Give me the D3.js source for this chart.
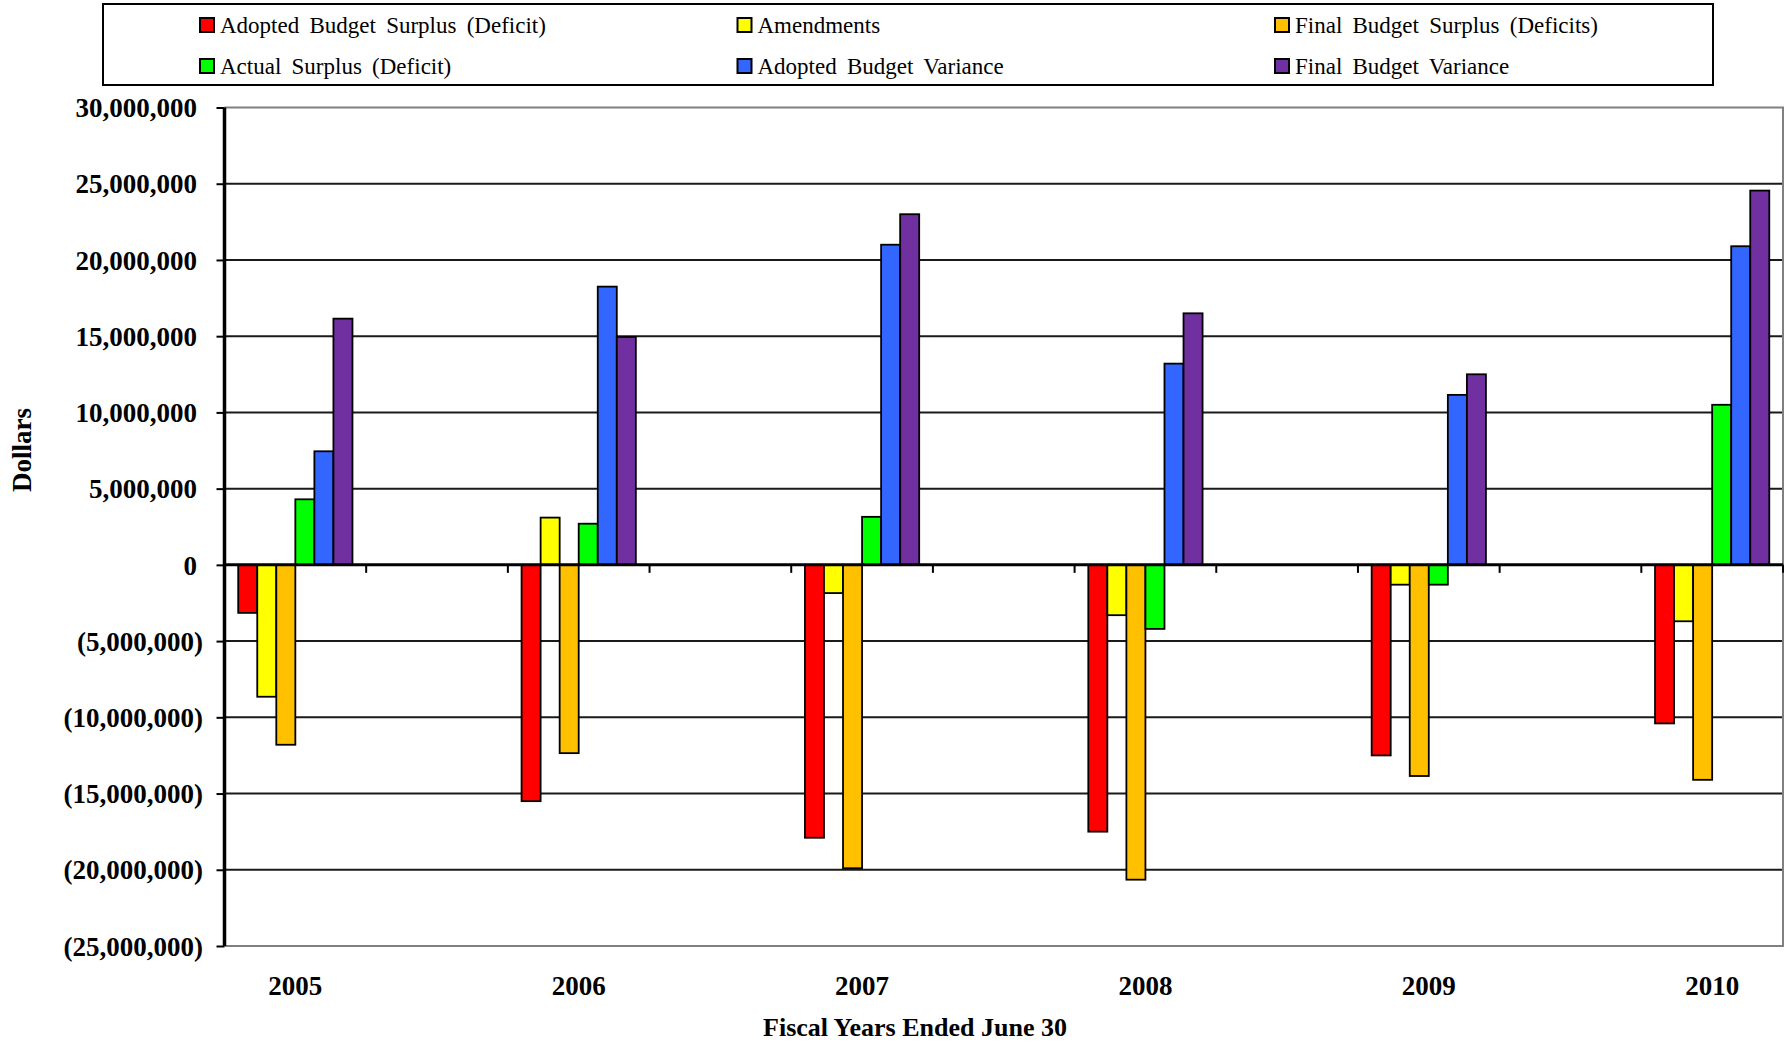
<!DOCTYPE html>
<html>
<head>
<meta charset="utf-8">
<script src="https://cdn.jsdelivr.net/npm/d3@7"></script>
<style>
  html, body { margin: 0; padding: 0; background: #fff; }
  svg { display: block; }
  text { font-family: "Liberation Serif", "Times New Roman", serif; }
</style>
</head>
<body>
<svg id="chart" width="1790" height="1045"></svg>
<script>
// Fiscal years shown on the category axis
const years = ["2005", "2006", "2007", "2008", "2009", "2010"];

// Series names (legend order) and their fill colours
const seriesNames = [
  "Adopted Budget Surplus (Deficit)",
  "Amendments",
  "Final Budget Surplus (Deficits)",
  "Actual Surplus (Deficit)",
  "Adopted Budget Variance",
  "Final Budget Variance"
];
const seriesColors = ["#FF0000", "#FFFF00", "#FFC000", "#00FF00", "#3366FF", "#7030A0"];

// Dollar values per series, one per fiscal year
const adoptedSurplus  = [-3150000, -15500000, -17900000, -17500000, -12500000, -10400000];
const amendments      = [-8650000,   3100000,  -1850000,  -3300000,  -1300000,  -3700000];
const finalSurplus    = [-11800000, -12350000, -19900000, -20650000, -13850000, -14100000];
const actualSurplus   = [ 4300000,   2700000,   3150000,  -4200000,  -1300000,  10500000];
const adoptedVariance = [ 7450000,  18250000,  21000000,  13200000,  11150000,  20900000];
const finalVariance   = [16150000,  14950000,  23000000,  16500000,  12500000,  24550000];

// Value axis ticks
const yTicks = [30000000, 25000000, 20000000, 15000000, 10000000, 5000000, 0,
                -5000000, -10000000, -15000000, -20000000, -25000000];

const seriesValues = [adoptedSurplus, amendments, finalSurplus, actualSurplus, adoptedVariance, finalVariance];

const svg = d3.select("#chart");

// Plot area
const plot = { left: 224.5, right: 1783, top: 107.5, bottom: 946 };

const y = d3.scaleLinear()
  .domain([-25000000, 30000000])
  .range([plot.bottom, plot.top]);

// Each year takes one slot, with an empty slot of equal width between years
const x = d3.scaleBand()
  .domain(years)
  .range([plot.left, plot.right])
  .paddingInner(0.5)
  .paddingOuter(0);

const slot = x.bandwidth();

const xInner = d3.scaleBand()
  .domain(d3.range(seriesNames.length))
  .range([0, slot])
  .paddingInner(0)
  .paddingOuter(0.72);

// Horizontal gridlines
svg.append("g")
  .selectAll("line")
  .data(yTicks.filter(v => v !== 0 && v !== 30000000 && v !== -25000000))
  .join("line")
  .attr("x1", plot.left)
  .attr("x2", plot.right)
  .attr("y1", d => y(d))
  .attr("y2", d => y(d))
  .attr("stroke", "#1a1a1a")
  .attr("stroke-width", 2);

// Plot area border (top, right, bottom) in grey
svg.append("path")
  .attr("d", `M${plot.left},${y(30000000)}H${plot.right}V${y(-25000000)}H${plot.left}`)
  .attr("fill", "none")
  .attr("stroke", "#808080")
  .attr("stroke-width", 2);

// Bars
const rows = years.map((yr, i) => ({ year: yr, values: seriesValues.map(s => s[i]) }));

svg.append("g")
  .selectAll("g")
  .data(rows)
  .join("g")
  .attr("transform", d => `translate(${x(d.year)},0)`)
  .selectAll("rect")
  .data(d => d.values.map((v, k) => ({ k, v })))
  .join("rect")
  .attr("x", d => xInner(d.k))
  .attr("width", xInner.bandwidth())
  .attr("y", d => Math.min(y(0), y(d.v)))
  .attr("height", d => Math.abs(y(d.v) - y(0)))
  .attr("fill", d => seriesColors[d.k])
  .attr("stroke", "#000")
  .attr("stroke-width", 1.8);

// Category axis along zero, with ticks between slots
const tickXs = [];
years.forEach(yr => {
  tickXs.push(x(yr) + slot);
  if (x(yr) + 2 * slot < plot.right - 1) tickXs.push(x(yr) + 2 * slot);
});
svg.append("g")
  .selectAll("line")
  .data(tickXs)
  .join("line")
  .attr("x1", d => d).attr("x2", d => d)
  .attr("y1", y(0)).attr("y2", y(0) + 8)
  .attr("stroke", "#000")
  .attr("stroke-width", 2);

svg.append("line")
  .attr("x1", plot.left).attr("x2", plot.right)
  .attr("y1", y(0)).attr("y2", y(0))
  .attr("stroke", "#000")
  .attr("stroke-width", 3);

// Year labels
svg.append("g")
  .selectAll("text")
  .data(years)
  .join("text")
  .attr("x", d => x(d) + slot / 2)
  .attr("y", 995)
  .attr("text-anchor", "middle")
  .attr("font-size", 27)
  .attr("font-weight", "bold")
  .text(d => d);

// Value axis
const yAxis = d3.axisLeft(y)
  .tickValues(yTicks)
  .tickSize(8)
  .tickFormat(v => v < 0 ? "(" + d3.format(",")(-v) + ")" : d3.format(",")(v));

const gy = svg.append("g")
  .attr("transform", `translate(${plot.left},0)`)
  .call(yAxis);

gy.select(".domain")
  .attr("stroke", "#000")
  .attr("stroke-width", 3.5)
  .attr("d", `M0,${plot.top}V${plot.bottom}`);
gy.selectAll(".tick line")
  .attr("stroke", "#000")
  .attr("stroke-width", 2);
gy.selectAll(".tick text")
  .attr("x", d => d < 0 ? -21.5 : -27.5)
  .attr("dy", "0.34em")
  .attr("fill", "#000")
  .attr("font-size", 27)
  .attr("font-weight", "bold")
  .attr("font-family", "Liberation Serif, Times New Roman, serif");

// Axis titles
svg.append("text")
  .attr("transform", "translate(31,450) rotate(-90)")
  .attr("text-anchor", "middle")
  .attr("font-size", 27)
  .attr("font-weight", "bold")
  .text("Dollars");

svg.append("text")
  .attr("x", 915)
  .attr("y", 1036)
  .attr("text-anchor", "middle")
  .attr("font-size", 26)
  .attr("font-weight", "bold")
  .text("Fiscal Years Ended June 30");

// Legend
const legend = svg.append("g");
legend.append("rect")
  .attr("x", 103).attr("y", 4)
  .attr("width", 1610).attr("height", 81)
  .attr("fill", "#fff")
  .attr("stroke", "#000")
  .attr("stroke-width", 2);

const legendCols = [200, 737.5, 1275];
const legendRows = [25, 66];

const items = legend.selectAll("g.item")
  .data(seriesNames.map((name, i) => ({ name, i })))
  .join("g")
  .attr("class", "item")
  .attr("transform", d => `translate(${legendCols[d.i % 3]},${legendRows[Math.floor(d.i / 3)]})`);

items.append("rect")
  .attr("x", 0).attr("y", -7)
  .attr("width", 14).attr("height", 14)
  .attr("fill", d => seriesColors[d.i])
  .attr("stroke", "#000")
  .attr("stroke-width", 2);

items.append("text")
  .attr("x", 20)
  .attr("y", 0)
  .attr("dy", "0.34em")
  .attr("font-size", 23)
  .attr("word-spacing", 4.5)
  .text(d => d.name);
</script>
</body>
</html>
